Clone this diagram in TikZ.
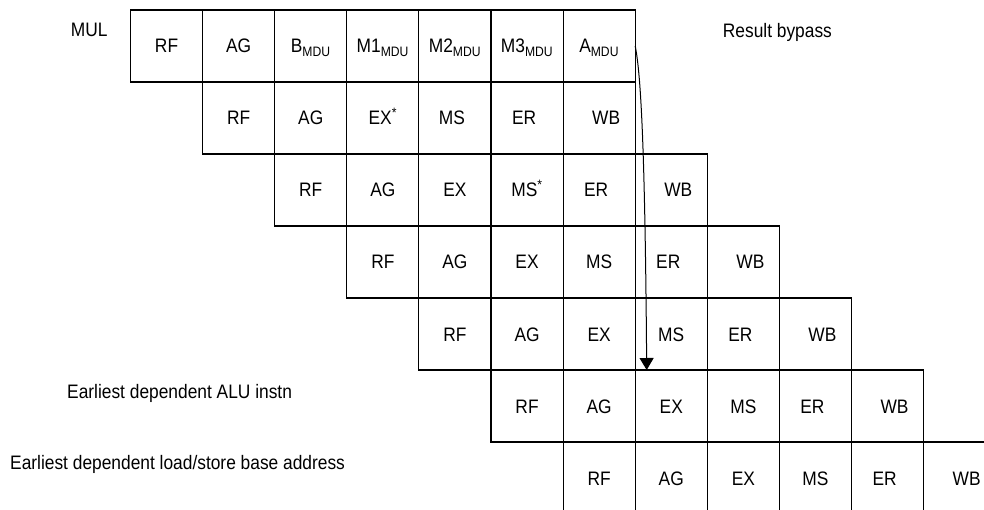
\documentclass[tikz,border=0pt]{standalone}
\usepackage{fontspec}
\setmainfont{Liberation Sans}[FakeStretch=0.89]
\usetikzlibrary{arrows.meta}
\begin{document}
\begin{tikzpicture}[x=1pt,y=-1pt,
  cellbox/.style={draw, line width=1.1pt, minimum width=72.1pt, minimum height=72pt,
    inner sep=0pt, outer sep=0pt, anchor=north west},
  celltxt/.style={font=\fontsize{19.5}{21}\selectfont, inner sep=0pt, anchor=base},
  lbl/.style={font=\fontsize{19.5}{21}\selectfont, inner sep=0pt, anchor=base west},
  bypass/.style={line width=1pt, -{Triangle[width=14pt,length=12pt]}}]
\useasboundingbox (0,0) rectangle (984,510);
\clip (0,0) rectangle (984,510);
\foreach \r/\c/\t/\dx in {
  0/0/RF/0, 0/1/AG/0, 0/2/{B\textsubscript{MDU}}/0, 0/3/{M1\textsubscript{MDU}}/0,
  0/4/{M2\textsubscript{MDU}}/0, 0/5/{M3\textsubscript{MDU}}/0, 0/6/{A\textsubscript{MDU}}/0,
  1/1/RF/0, 1/2/AG/0, 1/3/{EX\textsuperscript{*}}/0, 1/4/MS/-3, 1/5/ER/-3, 1/6/WB/7,
  2/2/RF/0, 2/3/AG/0, 2/4/EX/0, 2/5/{MS\textsuperscript{*}}/0, 2/6/ER/-3, 2/7/WB/7,
  3/3/RF/0, 3/4/AG/0, 3/5/EX/0, 3/6/MS/0, 3/7/ER/-3, 3/8/WB/7,
  4/4/RF/0, 4/5/AG/0, 4/6/EX/0, 4/7/MS/0, 4/8/ER/-3, 4/9/WB/7,
  5/5/RF/0, 5/6/AG/0, 5/7/EX/0, 5/8/MS/0, 5/9/ER/-3, 5/10/WB/7,
  6/6/RF/0, 6/7/AG/0, 6/8/EX/0, 6/9/MS/0, 6/10/ER/-3, 6/11/WB/7}
{
  \node[cellbox] (c\r-\c) at ({130.5+72.1*\c},{10+72*\r}) {};
  \node[celltxt] (t\r-\c) at ([xshift=\dx pt, yshift=-7pt]c\r-\c.center) {\t};
}
\node[lbl] (mul) at (70.7,37) {MUL};
\node[lbl] (rb) at (722.7,38) {Result bypass};
\node[lbl] (alu) at (67,398) {Earliest dependent ALU instn};
\node[lbl] (ls) at (10,469) {Earliest dependent load/store base address};
\coordinate (tip) at ([xshift=11.5pt]c5-7.north west);
\draw[bypass] (c0-6.east) .. controls (641,75) and (645,150) .. (tip);
\end{tikzpicture}
\end{document}
